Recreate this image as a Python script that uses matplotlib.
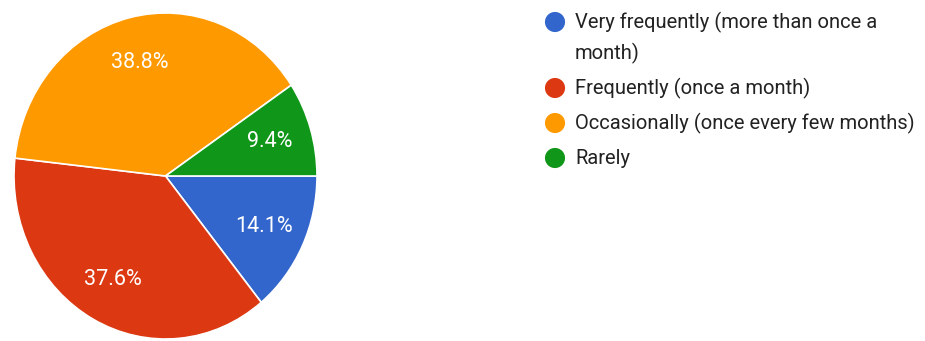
import matplotlib
matplotlib.use("Agg")
import matplotlib.pyplot as plt

# Survey responses: how often respondents do the activity
categories = [
    "Very frequently (more than once a\nmonth)",
    "Frequently (once a month)",
    "Occasionally (once every few months)",
    "Rarely",
]
shares = [14.1, 37.6, 38.8, 9.4]
colors = ["#3366CC", "#DC3912", "#FF9900", "#109618"]

W, H = 925, 341
fig = plt.figure(figsize=(W / 100, H / 100), dpi=100)
fig.patch.set_facecolor("white")

# Pie occupies the left part of the canvas (pixel box: x 14..317, y 13..339)
px0, px1, py0, py1 = 14, 317, 13, 339
ax = fig.add_axes([px0 / W, 1 - py1 / H, (px1 - px0) / W, (py1 - py0) / H])
wedges, texts, autotexts = ax.pie(
    shares,
    colors=colors,
    startangle=0,
    counterclock=False,
    autopct="%.1f%%",
    pctdistance=0.72,
    wedgeprops=dict(edgecolor="white", linewidth=1.2),
    textprops=dict(color="white", fontsize=15.5, family=["Roboto", "DejaVu Sans"]),
)
ax.set_aspect("auto")
ax.set_xlim(-1, 1)
ax.set_ylim(-1, 1)
ax.axis("off")

# Legend drawn on an overlay in pixel coordinates
lg = fig.add_axes([0, 0, 1, 1])
lg.set_xlim(0, W)
lg.set_ylim(H, 0)
lg.axis("off")
lg.patch.set_alpha(0)

marker_x, text_x = 555, 575
y = 22
line_gap, item_gap = 31, 35
for label, color in zip(categories, colors):
    lg.scatter([marker_x], [y], s=210, color=color, edgecolors="none")
    lines = label.split("\n")
    for i, line in enumerate(lines):
        lg.text(text_x, y + i * line_gap, line, fontsize=14.5, color="#222222",
                va="center", ha="left", family=["Roboto", "DejaVu Sans"])
    y += (len(lines) - 1) * line_gap + item_gap

fig.savefig("out.png", dpi=100, facecolor="white")
